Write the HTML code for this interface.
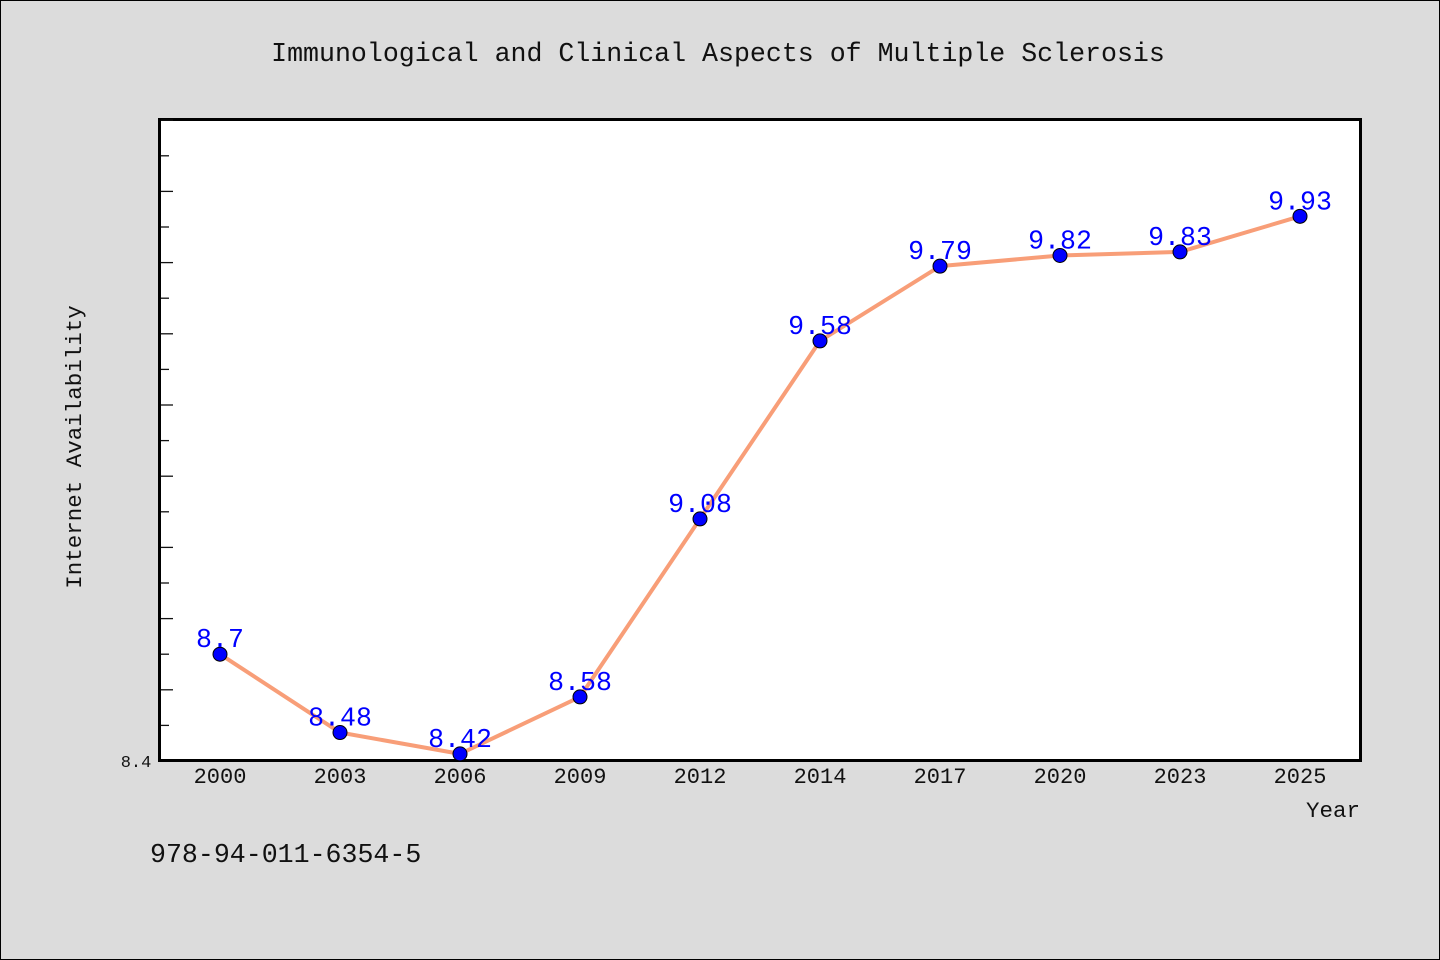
<!DOCTYPE html>
<html><head><meta charset="utf-8"><style>
body{margin:0;background:#dcdcdc;}
svg{display:block}
text{font-family:"Liberation Mono",monospace}
</style></head><body>
<svg width="1440" height="960">
<rect x="0.5" y="0.5" width="1439" height="959" fill="#dcdcdc" stroke="#000"/>
<text x="718" y="61" text-anchor="middle" font-size="26.6" fill="#111">Immunological and Clinical Aspects of Multiple Sclerosis</text>
<rect x="159.5" y="119.5" width="1201" height="641" fill="#fff" stroke="#000" stroke-width="3"/>
<g id="ticks"></g>
<g id="xlabels"></g>
<text x="81" y="447" transform="rotate(-90 81 447)" text-anchor="middle" font-size="22.5" fill="#111">Internet Availability</text>
<text x="1360" y="817" text-anchor="end" font-size="22.5" fill="#111">Year</text>
<text x="136" y="767" text-anchor="middle" font-size="17" fill="#111">8.4</text>
<text x="150" y="862" font-size="26.6" fill="#111">978-94-011-6354-5</text>
<path id="line" fill="none" stroke="#f89e78" stroke-width="4" stroke-linejoin="round"/>
<g id="points"></g>
</svg>
<script>
const categories=["2000","2003","2006","2009","2012","2014","2017","2020","2023","2025"];
const values=[8.7,8.48,8.42,8.58,9.08,9.58,9.79,9.82,9.83,9.93];
const yMin=8.4, yMax=10.2;
const ns="http://www.w3.org/2000/svg";
function xScale(i){return 220+i*120;}
function yScale(v){return 761-(v-yMin)*356;}
const ticks=document.getElementById('ticks');
for(let k=0;k<=18;k++){
  const v=yMin+k*0.1;const y=yScale(v);
  if(k===0||y<120)continue;
  const l=document.createElementNS(ns,'line');
  l.setAttribute('x1',161);l.setAttribute('x2',k%2===0?173:169);
  l.setAttribute('y1',y);l.setAttribute('y2',y);
  l.setAttribute('stroke','#111');l.setAttribute('stroke-width',1.3);
  
  
  ticks.appendChild(l);
}
const xl=document.getElementById('xlabels');
categories.forEach((c,i)=>{
  const t=document.createElementNS(ns,'text');
  t.setAttribute('x',xScale(i));t.setAttribute('y',783);
  t.setAttribute('text-anchor','middle');t.setAttribute('font-size',22);t.setAttribute('fill','#111');
  t.textContent=c;
  
  
  xl.appendChild(t);
});
document.getElementById('line').setAttribute('d',values.map((v,i)=>(i?'L':'M')+xScale(i)+' '+yScale(v)).join(' '));
const pts=document.getElementById('points');
values.forEach((v,i)=>{
  const c=document.createElementNS(ns,'circle');
  c.setAttribute('cx',xScale(i));c.setAttribute('cy',yScale(v));c.setAttribute('r',7);
  c.setAttribute('fill','#0000ff');c.setAttribute('stroke','#000');c.setAttribute('stroke-width',1);
  
  
  pts.appendChild(c);
  const t=document.createElementNS(ns,'text');
  t.setAttribute('x',xScale(i));t.setAttribute('y',yScale(v)-7);
  t.setAttribute('text-anchor','middle');t.setAttribute('font-size',26.6);t.setAttribute('fill','#0000ff');
  t.textContent=String(v);
  
  
  pts.appendChild(t);
});
</script>
</body></html>
